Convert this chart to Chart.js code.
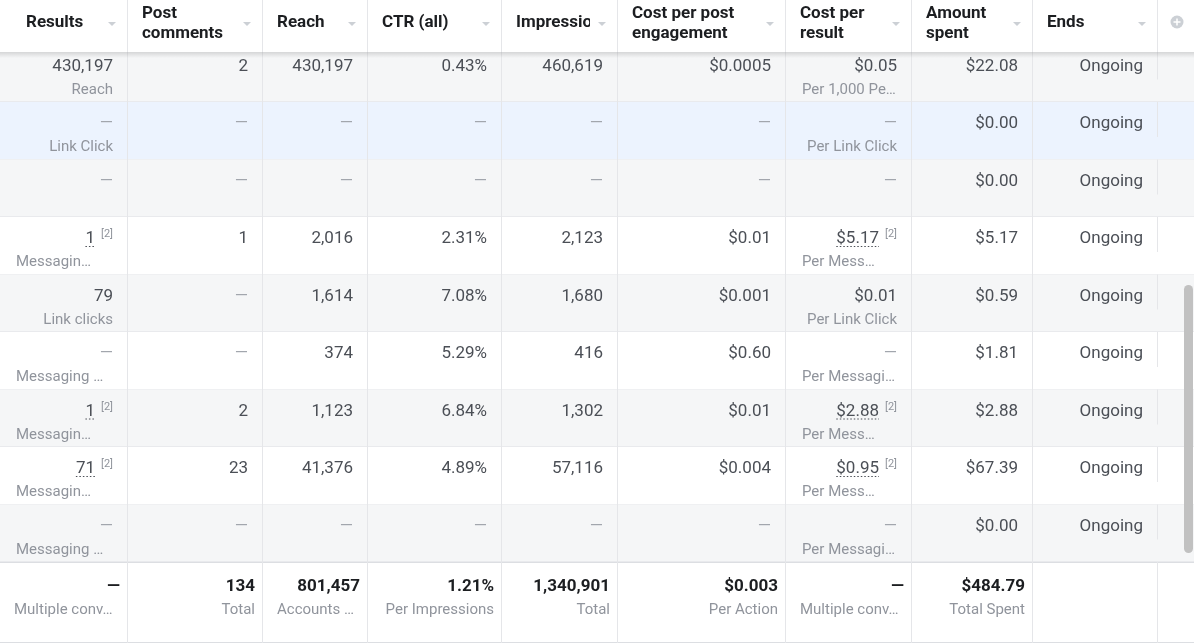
<!DOCTYPE html>
<html><head><meta charset="utf-8">
<script src="https://cdn.jsdelivr.net/npm/chart.js@4/dist/chart.umd.min.js"></script>
<style>html,body{margin:0;padding:0;background:#fff;overflow:hidden}canvas{display:block}</style>
</head><body>
<canvas id="c" width="1194" height="643"></canvas>
<script>
// ---------- DATA ----------
const columns = ['Results','Post comments','Reach','CTR (all)','Impressions','Cost per post engagement','Cost per result','Amount spent','Ends'];
const headerLines = [['Results'],['Post','comments'],['Reach'],['CTR (all)'],['Impressions'],['Cost per post','engagement'],['Cost per','result'],['Amount','spent'],['Ends']];
const results = ['430,197','—','—','1','79','—','1','71','—'];
const resultsSub = ['Reach','Link Click','','Messagin…','Link clicks','Messaging …','Messagin…','Messagin…','Messaging …'];
const postComments = ['2','—','—','1','—','—','2','23','—'];
const reach = ['430,197','—','—','2,016','1,614','374','1,123','41,376','—'];
const ctrAll = ['0.43%','—','—','2.31%','7.08%','5.29%','6.84%','4.89%','—'];
const impressions = ['460,619','—','—','2,123','1,680','416','1,302','57,116','—'];
const costPerEngagement = ['$0.0005','—','—','$0.01','$0.001','$0.60','$0.01','$0.004','—'];
const costPerResult = ['$0.05','—','—','$5.17','$0.01','—','$2.88','$0.95','—'];
const costPerResultSub = ['Per 1,000 Pe…','Per Link Click','','Per Mess…','Per Link Click','Per Messagi…','Per Mess…','Per Mess…','Per Messagi…'];
const amountSpent = ['$22.08','$0.00','$0.00','$5.17','$0.59','$1.81','$2.88','$67.39','$0.00'];
const ends = ['Ongoing','Ongoing','Ongoing','Ongoing','Ongoing','Ongoing','Ongoing','Ongoing','Ongoing'];
const noteRows = [3,6,7];
const noteLabel = '[2]';
const totals = ['—','134','801,457','1.21%','1,340,901','$0.003','—','$484.79',''];
const totalsSub = ['Multiple conv…','Total','Accounts …','Per Impressions','Total','Per Action','Multiple conv…','Total Spent',''];
const hoverRow = 1;

// ---------- LAYOUT ----------
const W = 1194, H = 643;
const colEdges = [0,128,263,368,502,618,786,912,1033,1158,1194];
const rowH = 57.5, firstRowTop = 44.5, headerH = 52;
const bodyColumns = [results,postComments,reach,ctrAll,impressions,costPerEngagement,costPerResult,amountSpent,ends];
const bodySubs = {0: resultsSub, 6: costPerResultSub};
const noteCols = [0,6];
const FONT = 'Roboto, "Helvetica Neue", Arial, sans-serif';

const tablePlugin = {
  id: 'adsTable',
  afterDraw(chart) {
    const ctx = chart.ctx, xs = chart.scales.x, ys = chart.scales.y;
    const X = v => xs.getPixelForValue(v), Y = v => ys.getPixelForValue(v);
    const L = X(0), R = X(W);
    const n = results.length;
    ctx.save();
    // body rows
    for (let r = 0; r < n; r++) {
      const t = Y(r), b = Y(r + 1);
      ctx.fillStyle = r === hoverRow ? '#ecf3fe' : (r % 2 === 0 ? '#f5f6f7' : '#ffffff');
      ctx.fillRect(L, t, R - L, b - t);
      ctx.fillStyle = '#e9eaed';
      ctx.fillRect(L, Math.round(b) - 1, R - L, 1);
    }
    const bodyTop = Y(0) - rowH, bodyBot = Y(n);
    ctx.fillStyle = '#e5e6e9';
    for (let i = 1; i <= 8; i++) ctx.fillRect(Math.round(X(colEdges[i])) - 1, bodyTop, 1, bodyBot - bodyTop);
    for (let r = 0; r < n; r++) ctx.fillRect(Math.round(X(colEdges[9])) - 1, Y(r), 1, 35);

    // body text
    for (let r = 0; r < n; r++) {
      const t = Y(r);
      for (let c = 0; c < bodyColumns.length; c++) {
        const val = bodyColumns[c][r];
        const cl = X(colEdges[c]), cr = X(colEdges[c + 1]);
        let rx = cr - 15;
        ctx.textAlign = 'right'; ctx.textBaseline = 'alphabetic';
        if (noteRows.includes(r) && noteCols.includes(c)) {
          ctx.font = '11px ' + FONT; ctx.fillStyle = '#90949c';
          const sw = ctx.measureText(noteLabel).width;
          ctx.fillText(noteLabel, rx, t + 20);
          rx = rx - sw - 6;
          ctx.font = '17px ' + FONT;
          const mw = ctx.measureText(val).width;
          ctx.fillStyle = '#4b4f56';
          ctx.fillText(val, rx, t + 26);
          ctx.beginPath(); ctx.setLineDash([1.5, 2]); ctx.strokeStyle = '#4b4f56'; ctx.lineWidth = 1;
          ctx.moveTo(rx - mw, t + 29.5); ctx.lineTo(rx, t + 29.5); ctx.stroke(); ctx.setLineDash([]);
        } else {
          ctx.font = '17px ' + FONT;
          ctx.fillStyle = val === '—' ? '#a2a6ad' : '#4b4f56';
          ctx.fillText(val, rx, t + 26);
        }
        const subs = bodySubs[c];
        if (subs && subs[r]) {
          const s = subs[r];
          ctx.font = '15px ' + FONT; ctx.fillStyle = '#90949c';
          if (s.endsWith('…')) { ctx.textAlign = 'left'; ctx.fillText(s, cl + 16, t + 49); }
          else { ctx.textAlign = 'right'; ctx.fillText(s, cr - 15, t + 49); }
        }
      }
    }

    // footer
    const ft = Y(n), fb = Y(ys.max);
    ctx.fillStyle = '#ffffff'; ctx.fillRect(L, ft, R - L, fb - ft);
    ctx.fillStyle = '#dcdee2'; ctx.fillRect(L, ft, R - L, 1); ctx.fillRect(L, fb - 1, R - L, 1);
    ctx.fillStyle = '#e5e6e9';
    for (let i = 1; i <= 9; i++) ctx.fillRect(Math.round(X(colEdges[i])) - 1, ft, 1, fb - ft);
    for (let c = 0; c < totals.length; c++) {
      const cl = X(colEdges[c]), cr = X(colEdges[c + 1]);
      ctx.textBaseline = 'alphabetic';
      if (totals[c]) {
        ctx.font = 'bold 17px ' + FONT; ctx.fillStyle = '#1c1e21'; ctx.textAlign = 'right';
        ctx.fillText(totals[c], cr - 8, ft + 29);
      }
      const s = totalsSub[c];
      if (s) {
        ctx.font = '15px ' + FONT; ctx.fillStyle = '#90949c';
        if (s.endsWith('…')) { ctx.textAlign = 'left'; ctx.fillText(s, cl + 14, ft + 52); }
        else { ctx.textAlign = 'right'; ctx.fillText(s, cr - 8, ft + 52); }
      }
    }

    // header
    ctx.fillStyle = '#ffffff'; ctx.fillRect(L, 0, R - L, headerH);
    const g = ctx.createLinearGradient(0, headerH, 0, headerH + 6);
    g.addColorStop(0, 'rgba(0,0,0,0.13)'); g.addColorStop(1, 'rgba(0,0,0,0)');
    ctx.fillStyle = g; ctx.fillRect(L, headerH, R - L, 6);
    ctx.fillStyle = '#e5e6e9';
    for (let i = 1; i <= 9; i++) ctx.fillRect(Math.round(X(colEdges[i])) - 1, 0, 1, headerH);
    for (let c = 0; c < headerLines.length; c++) {
      const cl = X(colEdges[c]), cr = X(colEdges[c + 1]);
      const lines = headerLines[c];
      ctx.save();
      ctx.beginPath(); ctx.rect(cl, 0, cr - cl - 28, headerH); ctx.clip();
      ctx.font = 'bold 17px ' + FONT; ctx.fillStyle = '#1c1e21'; ctx.textAlign = 'left'; ctx.textBaseline = 'alphabetic';
      const lx = cl + (c === 0 ? 26 : 14);
      if (lines.length === 1) ctx.fillText(lines[0], lx, 27);
      else { ctx.fillText(lines[0], lx, 18); ctx.fillText(lines[1], lx, 38); }
      ctx.restore();
      // sort arrow
      const ax = cr - 16, ay = 24;
      ctx.beginPath(); ctx.moveTo(ax - 4, ay - 2); ctx.lineTo(ax + 4, ay - 2); ctx.lineTo(ax, ay + 2); ctx.closePath();
      ctx.fillStyle = '#ccd0d5'; ctx.fill();
    }
    // plus icon
    ctx.beginPath(); ctx.arc(X(1177), 22, 6.5, 0, Math.PI * 2); ctx.fillStyle = '#ccd0d5'; ctx.fill();
    ctx.fillStyle = '#ffffff'; ctx.fillRect(X(1177) - 3.5, 21.25, 7, 1.5); ctx.fillRect(X(1177) - 0.75, 18.5, 1.5, 7);

    // scrollbar
    const sx = X(1184), sy = 285, sw2 = 9, sh = 268;
    ctx.beginPath();
    if (ctx.roundRect) ctx.roundRect(sx, sy, sw2, sh, 4.5); else ctx.rect(sx, sy, sw2, sh);
    ctx.fillStyle = '#c1c1c1'; ctx.fill();
    ctx.restore();
  }
};

function build() {
  new Chart(document.getElementById('c'), {
    type: 'scatter',
    data: { datasets: [{ data: [], pointRadius: 0 }] },
    options: {
      responsive: false, animation: false, events: [],
      layout: { padding: 0 },
      plugins: { legend: { display: false }, tooltip: { enabled: false } },
      scales: {
        x: { type: 'linear', min: 0, max: W, display: false },
        y: { type: 'linear', min: -firstRowTop / rowH, max: (H - firstRowTop) / rowH, reverse: true, display: false }
      }
    },
    plugins: [tablePlugin]
  });
}
if (document.fonts && document.fonts.load) {
  Promise.all([document.fonts.load('17px Roboto'), document.fonts.load('bold 17px Roboto')]).then(build, build);
} else build();
</script>
</body></html>
